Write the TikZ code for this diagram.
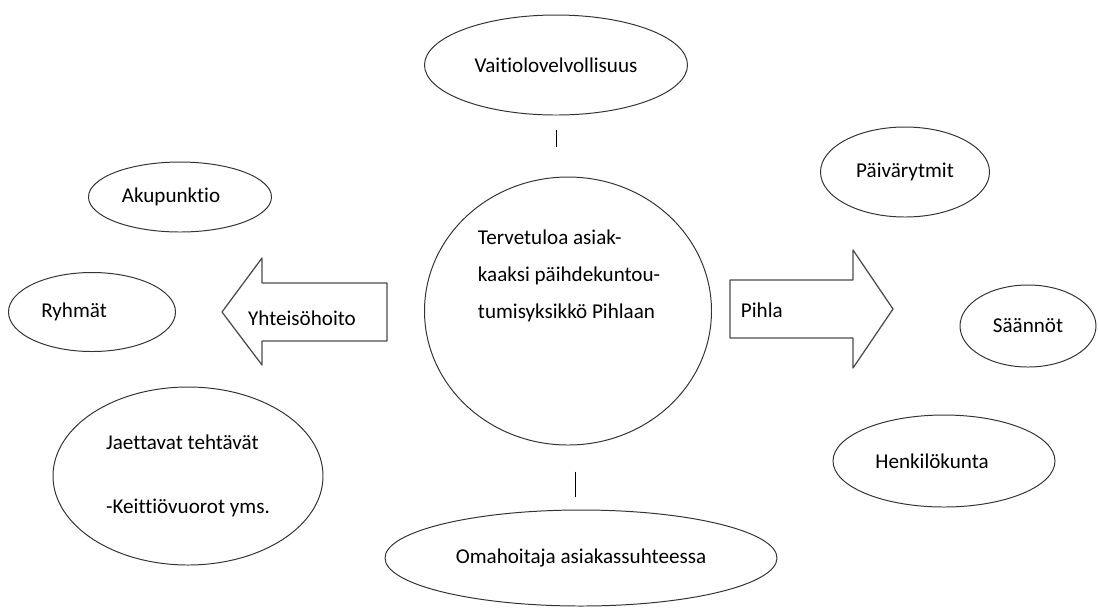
\documentclass[tikz,border=0pt]{standalone}
\usepackage{fontspec}
\setmainfont{Carlito}[Ligatures={NoCommon}]
\usetikzlibrary{shapes.geometric}

\begin{document}
\begin{tikzpicture}[x=0.025cm,y=-0.025cm,line cap=round,line join=round,
        every node/.style={font=\fontsize{15}{18}\selectfont},
        blob/.style n args={2}{draw=black!80,line width=0.7pt,ellipse,inner sep=0pt,
            minimum width=#1*0.025cm,minimum height=#2*0.025cm},
        fatarrow/.style={draw=black!70,line width=0.9pt},
        tick/.style={draw=black,line width=0.7pt}]
        \useasboundingbox (0,0) rectangle (1098,608);
        % centre and the two ends of the axis
        \node[blob={287}{268}] (pihlaan) at (568,311) {};
        \node[anchor=west,align=left,font=\fontsize{15}{26.2}\selectfont] (welcome) at (473,276)
            {Tervetuloa asiak-\\kaaksi päihdekuntou-\\tumisyksikkö Pihlaan};
        \node[blob={263}{100}] (vaitio) at (556,65) {Vaitiolovelvollisuus};
        \node[blob={392}{96}] (omaho) at (581,558) {Omahoitaja asiakassuhteessa};
        \draw[tick,shorten <=10.6pt,shorten >=21.3pt] (vaitio.south) -- (vaitio.south |- pihlaan.north);
        \draw[tick,shorten <=19.1pt,shorten >=9.2pt] ([xshift=5pt]pihlaan.south) -- ([xshift=5pt]pihlaan.south |- omaho.north);
        % left side
        \draw[fatarrow] (387,283) -- (262,283) -- (262,258) -- (222,312) -- (262,365) -- (262,341) -- (387,341) -- cycle;
        \node (yhteis) at (302,318) {Yhteisöhoito};
        \node[blob={183}{70}] (akup) at (180,197) {Akupunktio\hspace*{12.8pt}};
        \node[blob={167}{79}] (ryhmat) at (92,312) {Ryhmät\hspace*{25.5pt}};
        \node[blob={270}{178},align=left,font=\fontsize{15}{46}\selectfont] (jaett) at (188,476)
            {Jaettavat tehtävät\\-Keittiövuorot yms.};
        % right side
        \draw[fatarrow] (730,280) -- (853,280) -- (853,250) -- (893,309) -- (853,368) -- (853,338) -- (730,338) -- cycle;
        \node[anchor=west] (pihla) at (736,310) {Pihla};
        \node[blob={169}{90}] (paiva) at (905,172) {Päivärytmit};
        \node[blob={136}{82}] (saann) at (1028,326) {Säännöt};
        \node[blob={222}{92}] (henk) at (944,461) {Henkilökunta\hspace*{17pt}};
\end{tikzpicture}
\end{document}
